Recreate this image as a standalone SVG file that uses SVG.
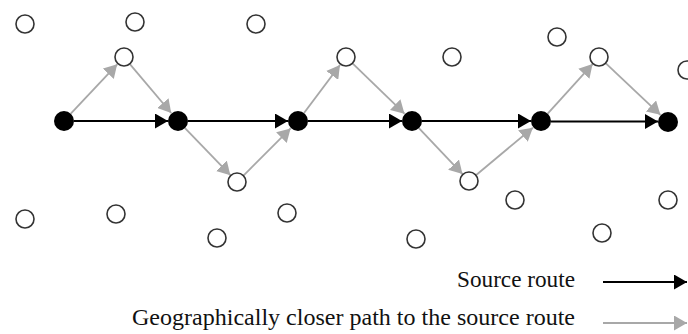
<svg xmlns="http://www.w3.org/2000/svg" width="688" height="334" viewBox="0 0 688 334">
<style>
.open{fill:#fff;stroke:#333;stroke-width:1.6}
.solid{fill:#000}
.src{stroke:#000;stroke-width:1.8;fill:none;marker-end:url(#hb)}
.geo{stroke:#a8a8a8;stroke-width:1.8;fill:none;marker-end:url(#hg)}
.lbl{font-size:23px;fill:#111}
</style>
<defs>
<marker id="hb" markerUnits="userSpaceOnUse" markerWidth="14" markerHeight="15" refX="13" refY="7.5" orient="auto">
<path d="M0,0 L13,7.5 L0,15 z" fill="#000"/>
</marker>
<marker id="hg" markerUnits="userSpaceOnUse" markerWidth="14" markerHeight="15" refX="13" refY="7.5" orient="auto">
<path d="M0,0 L13,7.5 L0,15 z" fill="#a8a8a8"/>
</marker>
</defs>
<g id="connectors">
<line class="src" x1="74" y1="121" x2="168" y2="121"/>
<line class="src" x1="188" y1="121" x2="288" y2="121"/>
<line class="src" x1="308" y1="121" x2="402" y2="121"/>
<line class="src" x1="422" y1="121" x2="531" y2="121"/>
<line class="src" x1="551" y1="121.5" x2="658" y2="121.5"/>
<line class="geo" x1="70.8" y1="113.7" x2="117.2" y2="64.3"/>
<line class="geo" x1="130.1" y1="64.3" x2="171.2" y2="113"/>
<line class="geo" x1="185" y1="128.2" x2="230.4" y2="175.2"/>
<line class="geo" x1="243.7" y1="175.3" x2="290.6" y2="128.4"/>
<line class="geo" x1="304" y1="113" x2="340" y2="65"/>
<line class="geo" x1="352.8" y1="63.6" x2="404.5" y2="113.7"/>
<line class="geo" x1="418.9" y1="128.2" x2="462.5" y2="174.1"/>
<line class="geo" x1="475.9" y1="175.2" x2="532.9" y2="127.7"/>
<line class="geo" x1="547.7" y1="113.6" x2="592.6" y2="64.1"/>
<line class="geo" x1="605.6" y1="63.2" x2="660.4" y2="114.8"/>
</g>
<g id="b1"><circle class="solid" cx="64" cy="121" r="10"/></g>
<g id="b2"><circle class="solid" cx="178" cy="121" r="10"/></g>
<g id="b3"><circle class="solid" cx="298" cy="121" r="10"/></g>
<g id="b4"><circle class="solid" cx="412" cy="121" r="10"/></g>
<g id="b5"><circle class="solid" cx="541" cy="121" r="10"/></g>
<g id="b6"><circle class="solid" cx="668" cy="122" r="10"/></g>
<g id="o1"><circle class="open" cx="25" cy="24" r="9"/></g>
<g id="o2"><circle class="open" cx="135" cy="22" r="9"/></g>
<g id="o3"><circle class="open" cx="256" cy="24" r="9"/></g>
<g id="o4"><circle class="open" cx="124" cy="57" r="9"/></g>
<g id="o5"><circle class="open" cx="346" cy="57" r="9"/></g>
<g id="o6"><circle class="open" cx="452" cy="57" r="9"/></g>
<g id="o7"><circle class="open" cx="557" cy="37" r="9"/></g>
<g id="o8"><circle class="open" cx="599" cy="57" r="9"/></g>
<g id="o9"><circle class="open" cx="687" cy="70" r="9"/></g>
<g id="o10"><circle class="open" cx="237" cy="182" r="9"/></g>
<g id="o11"><circle class="open" cx="469" cy="181" r="9"/></g>
<g id="o12"><circle class="open" cx="25" cy="219" r="9"/></g>
<g id="o13"><circle class="open" cx="116" cy="214" r="9"/></g>
<g id="o14"><circle class="open" cx="217" cy="238" r="9"/></g>
<g id="o15"><circle class="open" cx="287" cy="213" r="9"/></g>
<g id="o16"><circle class="open" cx="416" cy="239" r="9"/></g>
<g id="o17"><circle class="open" cx="515" cy="200" r="9"/></g>
<g id="o18"><circle class="open" cx="602" cy="233" r="9"/></g>
<g id="o19"><circle class="open" cx="668" cy="200" r="9"/></g>
<g id="legend" font-family="'Liberation Serif', 'Times New Roman', 'DejaVu Serif', serif">
<text class="lbl" x="457" y="287" textLength="118" lengthAdjust="spacingAndGlyphs">Source route</text>
<text class="lbl" x="132" y="325" textLength="443" lengthAdjust="spacingAndGlyphs">Geographically closer path to the source route</text>
<line class="src" x1="603" y1="282" x2="687" y2="282"/>
<line class="geo" x1="603" y1="323" x2="687" y2="323"/>
</g>
</svg>
